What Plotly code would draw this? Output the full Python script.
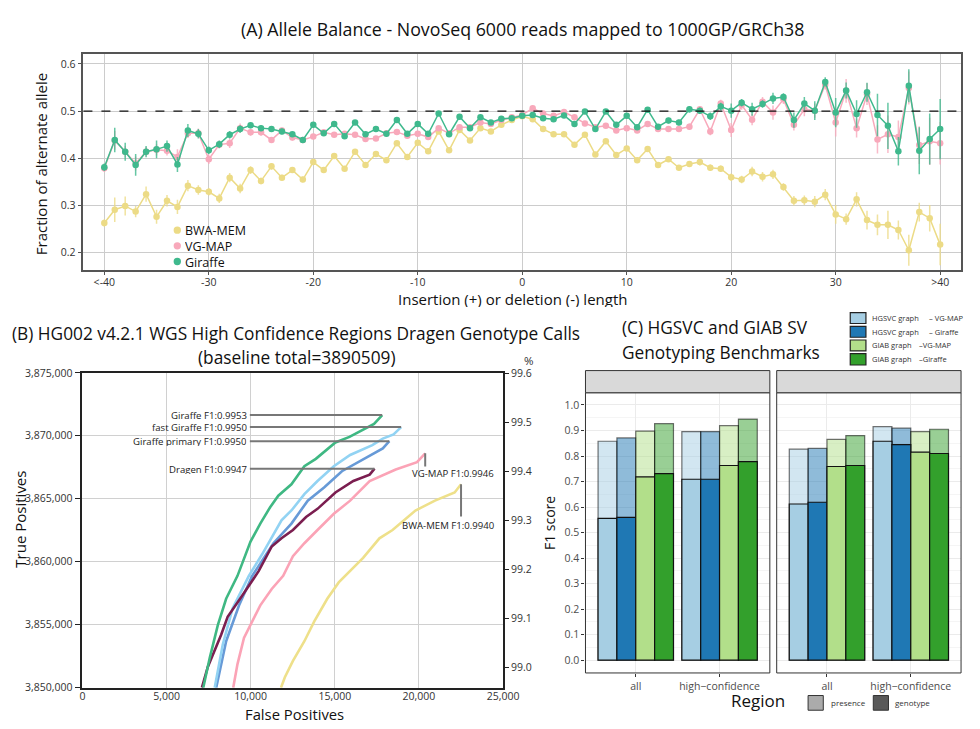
import plotly.graph_objects as go

W, H = 980, 729
def px(x): return min(max(x / W, 0), 1)
def py(y): return min(max(1 - y / H, 0), 1)

FONT = "Open Sans"

# ---------------- Panel A data ----------------
indel_len = list(range(-40, 41))
indel_tickvals = [-40, -30, -20, -10, 0, 10, 20, 30, 40]
indel_ticktext = ["<-40", "-30", "-20", "-10", "0", "10", "20", "30", ">40"]
ab_tickvals = [0.2, 0.3, 0.4, 0.5, 0.6]

bwa_ab = [0.263, 0.291, 0.299, 0.287, 0.324, 0.276, 0.310, 0.297, 0.342, 0.333,
          0.329, 0.315, 0.359, 0.336, 0.375, 0.352, 0.383, 0.359, 0.375, 0.355,
          0.392, 0.375, 0.405, 0.378, 0.414, 0.386, 0.409, 0.396, 0.432, 0.403,
          0.433, 0.415, 0.457, 0.417, 0.460, 0.438, 0.464, 0.457, 0.471, 0.481,
          0.489, 0.483, 0.462, 0.451, 0.451, 0.429, 0.450, 0.408, 0.436, 0.407,
          0.421, 0.396, 0.420, 0.386, 0.398, 0.380, 0.388, 0.392, 0.380, 0.378,
          0.360, 0.355, 0.372, 0.361, 0.366, 0.339, 0.310, 0.311, 0.308, 0.323,
          0.281, 0.271, 0.313, 0.269, 0.259, 0.259, 0.248, 0.205, 0.286, 0.273,
          0.217]
vgmap_ab = [0.379, 0.438, 0.414, 0.389, 0.414, 0.418, 0.416, 0.403, 0.453, 0.453,
            0.398, 0.429, 0.432, 0.464, 0.455, 0.455, 0.439, 0.459, 0.444, 0.439,
            0.446, 0.455, 0.450, 0.452, 0.450, 0.441, 0.442, 0.453, 0.456, 0.448,
            0.452, 0.445, 0.464, 0.453, 0.466, 0.466, 0.476, 0.473, 0.481, 0.487,
            0.492, 0.506, 0.495, 0.490, 0.498, 0.487, 0.474, 0.466, 0.469, 0.459,
            0.464, 0.459, 0.473, 0.462, 0.462, 0.462, 0.467, 0.504, 0.457, 0.516,
            0.460, 0.513, 0.482, 0.520, 0.497, 0.525, 0.471, 0.504, 0.501, 0.556,
            0.476, 0.543, 0.464, 0.536, 0.440, 0.451, 0.445, 0.549, 0.428, 0.436,
            0.432]
giraffe_ab = [0.381, 0.439, 0.414, 0.386, 0.414, 0.419, 0.426, 0.387, 0.459, 0.452,
              0.417, 0.430, 0.450, 0.462, 0.470, 0.464, 0.462, 0.457, 0.451, 0.439,
              0.471, 0.453, 0.473, 0.447, 0.476, 0.451, 0.462, 0.452, 0.481, 0.452,
              0.473, 0.452, 0.495, 0.451, 0.488, 0.464, 0.487, 0.476, 0.484, 0.485,
              0.490, 0.492, 0.485, 0.483, 0.491, 0.473, 0.499, 0.462, 0.499, 0.471,
              0.490, 0.466, 0.503, 0.467, 0.480, 0.476, 0.504, 0.501, 0.489, 0.510,
              0.501, 0.518, 0.504, 0.515, 0.527, 0.530, 0.481, 0.516, 0.501, 0.562,
              0.497, 0.544, 0.494, 0.540, 0.492, 0.469, 0.415, 0.554, 0.416, 0.441,
              0.462]

bwa_err = [0.008, 0.026, 0.020, 0.012, 0.016, 0.015, 0.012, 0.015, 0.012, 0.010,
           0.008, 0.010, 0.010, 0.010, 0.008, 0.007, 0.007, 0.006, 0.006, 0.006,
           0.006, 0.005, 0.005, 0.005, 0.005, 0.005, 0.005, 0.004, 0.004, 0.004,
           0.004, 0.004, 0.004, 0.004, 0.004, 0.004, 0.003, 0.003, 0.003, 0.003,
           0.003, 0.003, 0.003, 0.003, 0.003, 0.004, 0.004, 0.004, 0.004, 0.004,
           0.005, 0.005, 0.005, 0.005, 0.006, 0.006, 0.006, 0.007, 0.007, 0.007,
           0.008, 0.008, 0.010, 0.010, 0.010, 0.008, 0.010, 0.010, 0.012, 0.012,
           0.020, 0.012, 0.015, 0.020, 0.022, 0.030, 0.020, 0.033, 0.020, 0.028,
           0.044, 0.030]
vgmap_err = [0.008, 0.020, 0.012, 0.015, 0.010, 0.012, 0.010, 0.016, 0.010, 0.010,
             0.010, 0.008, 0.010, 0.010, 0.007, 0.007, 0.006, 0.006, 0.006, 0.006,
             0.005, 0.005, 0.005, 0.005, 0.005, 0.005, 0.005, 0.004, 0.004, 0.004,
             0.004, 0.004, 0.004, 0.004, 0.004, 0.004, 0.003, 0.003, 0.003, 0.003,
             0.003, 0.003, 0.003, 0.003, 0.003, 0.004, 0.004, 0.004, 0.004, 0.005,
             0.005, 0.005, 0.005, 0.006, 0.006, 0.006, 0.007, 0.007, 0.008, 0.008,
             0.015, 0.010, 0.012, 0.010, 0.015, 0.010, 0.012, 0.015, 0.015, 0.010,
             0.030, 0.025, 0.020, 0.023, 0.030, 0.040, 0.035, 0.035, 0.040, 0.050,
             0.045, 0.035]
giraffe_err = [0.008, 0.026, 0.019, 0.023, 0.012, 0.019, 0.012, 0.016, 0.014, 0.010,
               0.008, 0.008, 0.008, 0.008, 0.006, 0.006, 0.006, 0.006, 0.005, 0.005,
               0.005, 0.005, 0.005, 0.005, 0.005, 0.005, 0.004, 0.004, 0.004, 0.004,
               0.004, 0.004, 0.004, 0.004, 0.004, 0.004, 0.003, 0.003, 0.003, 0.003,
               0.003, 0.003, 0.003, 0.003, 0.003, 0.004, 0.004, 0.004, 0.004, 0.005,
               0.005, 0.005, 0.005, 0.006, 0.006, 0.006, 0.007, 0.007, 0.008, 0.008,
               0.015, 0.008, 0.014, 0.008, 0.012, 0.008, 0.016, 0.014, 0.020, 0.010,
               0.031, 0.017, 0.029, 0.020, 0.045, 0.049, 0.030, 0.035, 0.050, 0.054,
               0.064, 0.044]

# ---------------- Panel B data ----------------
baseline_total = 3890509
giraffe_fp = [7180, 7570, 8050, 8540, 9215, 9990, 10570, 11155, 11640, 12420, 13190, 13870, 15035, 15870, 17330, 17815]
giraffe_tp = [3850000, 3852390, 3854980, 3857060, 3858880, 3861600, 3863030, 3864330, 3865240, 3866150, 3867580, 3868170, 3869470, 3869910, 3870950, 3871650]
fast_fp = [7860, 8340, 8920, 9890, 10670, 11830, 12420, 13190, 13970, 14940, 15910, 17230, 17850, 18490, 18940]
fast_tp = [3850000, 3853430, 3856280, 3858880, 3860570, 3863290, 3864070, 3865370, 3866410, 3867580, 3868480, 3869260, 3869780, 3870110, 3870690]
primary_fp = [7950, 8540, 9310, 10090, 11350, 12420, 13390, 14360, 15420, 16490, 17850, 18240]
primary_tp = [3850000, 3853690, 3856540, 3858880, 3861470, 3863030, 3864850, 3865890, 3867190, 3867970, 3869000, 3869570]
dragen_fp = [7100, 7450, 8245, 8630, 9500, 10480, 11250, 11830, 12510, 13290, 13970, 15035, 16100, 17070, 17360]
dragen_tp = [3850000, 3851640, 3854200, 3855630, 3857320, 3859270, 3861210, 3861860, 3862520, 3863550, 3864200, 3865500, 3866410, 3866920, 3867390]
vgmapB_fp = [8960, 9215, 9600, 10090, 10570, 11250, 11930, 12510, 13190, 13970, 14940, 15910, 17070, 18620, 19885, 20370]
vgmapB_tp = [3850000, 3851870, 3853950, 3855240, 3856540, 3857840, 3858880, 3860440, 3861470, 3862520, 3863810, 3864850, 3866410, 3867320, 3867910, 3868610]
bwaB_fp = [11800, 12030, 12510, 13190, 13770, 14550, 15230, 15910, 16680, 17650, 18430, 19790, 20950, 22120, 22500]
bwaB_tp = [3850000, 3850830, 3852130, 3853690, 3855240, 3857060, 3858360, 3859270, 3860310, 3861860, 3862520, 3864070, 3864850, 3865500, 3866150]
curve_labels = ["Giraffe F1:0.9953", "fast Giraffe F1:0.9950", "Giraffe primary F1:0.9950",
                "Dragen F1:0.9947", "VG-MAP F1:0.9946", "BWA-MEM F1:0.9940"]
pct_ticks = [99.0, 99.1, 99.2, 99.3, 99.4, 99.5, 99.6]

# ---------------- Panel C data ----------------
regions = ["all", "high\u2212confidence"]
methods = ["HGSVC graph \u2013 VG-MAP", "HGSVC graph \u2013 Giraffe",
           "GIAB graph \u2013 VG-MAP", "GIAB graph \u2013 Giraffe"]
f1_ticks = [0.0, 0.1, 0.2, 0.3, 0.4, 0.5, 0.6, 0.7, 0.8, 0.9, 1.0]
facet1_presence = [[0.858, 0.896], [0.871, 0.896], [0.898, 0.919], [0.927, 0.945]]
facet1_genotype = [[0.556, 0.709], [0.560, 0.709], [0.718, 0.763], [0.731, 0.778]]
facet2_presence = [[0.827, 0.915], [0.830, 0.909], [0.865, 0.896], [0.880, 0.905]]
facet2_genotype = [[0.612, 0.858], [0.619, 0.845], [0.759, 0.815], [0.763, 0.810]]

# ---------------- styles ----------------
YEL, PINK, GRN = "#ecdb86", "#f8a9bb", "#3fb98d"
YEL_E, PINK_E, GRN_E = "rgba(236,219,134,0.8)", "rgba(248,169,187,0.8)", "rgba(63,185,141,0.8)"
B_COLORS = {"giraffe": "#3fb883", "fast": "#92d3f3", "primary": "#679ad7",
            "dragen": "#7b1e50", "vgmap": "#fba3b6", "bwa": "#eee08a"}
C_COLORS = ["#a6cee3", "#1f78b4", "#b2df8a", "#33a02c"]
C_ALPHA = ["rgba(166,206,227,0.5)", "rgba(31,120,180,0.5)", "rgba(178,223,138,0.5)", "rgba(51,160,44,0.5)"]

fig = go.Figure()

# Panel A traces
for yv, ev, col, ecol in [(bwa_ab, bwa_err, YEL, YEL_E), (vgmap_ab, vgmap_err, PINK, PINK_E),
                          (giraffe_ab, giraffe_err, GRN, GRN_E)]:
    fig.add_trace(go.Scatter(x=indel_len, y=yv, mode="lines+markers",
                             line=dict(color=col, width=1.5),
                             marker=dict(color=col, size=6.5),
                             error_y=dict(type="data", array=ev, color=ecol, thickness=1.5, width=0),
                             xaxis="x", yaxis="y", showlegend=False, hoverinfo="skip"))

# Panel B traces
for fp, tp, key in [(bwaB_fp, bwaB_tp, "bwa"), (vgmapB_fp, vgmapB_tp, "vgmap"),
                    (primary_fp, primary_tp, "primary"), (fast_fp, fast_tp, "fast"),
                    (dragen_fp, dragen_tp, "dragen"), (giraffe_fp, giraffe_tp, "giraffe")]:
    fig.add_trace(go.Scatter(x=fp, y=tp, mode="lines", line=dict(color=B_COLORS[key], width=2.6),
                             xaxis="x2", yaxis="y2", showlegend=False, hoverinfo="skip"))
# invisible trace on percent axis
fig.add_trace(go.Scatter(x=giraffe_fp, y=[t / baseline_total * 100 for t in giraffe_tp], mode="lines",
                         line=dict(width=0), opacity=0, xaxis="x2", yaxis="y3",
                         showlegend=False, hoverinfo="skip"))

# Panel C traces
for pres, geno, xa, ya, ag in [(facet1_presence, facet1_genotype, "x3", "y4", "f1"),
                               (facet2_presence, facet2_genotype, "x4", "y5", "f2")]:
    for i in range(4):
        fig.add_trace(go.Bar(x=regions, y=pres[i], name=methods[i], offsetgroup=str(i), alignmentgroup=ag,
                             marker=dict(color=C_ALPHA[i], line=dict(color="rgba(0,0,0,0.55)", width=1.2)),
                             xaxis=xa, yaxis=ya, showlegend=False, hoverinfo="skip"))
    for i in range(4):
        fig.add_trace(go.Bar(x=regions, y=geno[i], name=methods[i], offsetgroup=str(i), alignmentgroup=ag,
                             marker=dict(color=C_COLORS[i], line=dict(color="#111111", width=1.2)),
                             xaxis=xa, yaxis=ya, showlegend=False, hoverinfo="skip"))

tickfont = dict(family=FONT, size=10.5, color="#333333")
Bdom_y = [py(694), py(373)]
Cdom_y = [py(679), py(393.3)]

lo_pct = 3850000 / baseline_total * 100
hi_pct = 3875000 / baseline_total * 100

fig.update_layout(
    width=W, height=H, margin=dict(l=0, r=0, t=0, b=0),
    paper_bgcolor="white", plot_bgcolor="white",
    barmode="group", bargap=0.1, bargroupgap=0,
    font=dict(family=FONT, color="#111111"),
    xaxis=dict(domain=[px(82), px(977)], range=[-42, 42], anchor="y",
               tickvals=indel_tickvals, ticktext=indel_ticktext, tickfont=tickfont,
               showgrid=True, gridcolor="#cccccc", gridwidth=1.3, zeroline=False,
               showline=True, linecolor="#555555", linewidth=1.5, mirror=True,
               ticks="outside", ticklen=3, tickcolor="#555555", ticklabelstandoff=-1),
    yaxis=dict(domain=[py(268), py(48)], range=[0.1635, 0.621], anchor="x",
               tickvals=ab_tickvals, tickformat=".1f", tickfont=tickfont,
               showgrid=True, gridcolor="#cccccc", gridwidth=1.3, zeroline=False,
               showline=True, linecolor="#555555", linewidth=1.5, mirror=True,
               ticks="outside", ticklen=4, tickcolor="#555555"),
    xaxis2=dict(domain=[px(81), px(510)], range=[0, 25000], anchor="y2",
                dtick=5000, tickformat=",d", tickfont=tickfont,
                showgrid=True, gridcolor="#d0d0d0", gridwidth=1, zeroline=False,
                showline=True, linecolor="#222222", linewidth=1.5, mirror=True, ticks="",
                ticklabelstandoff=-2),
    yaxis2=dict(domain=Bdom_y, range=[3850000, 3875000], anchor="x2",
                dtick=5000, tickformat=",d", tickfont=tickfont,
                showgrid=True, gridcolor="#d0d0d0", gridwidth=1, zeroline=False,
                showline=True, linecolor="#222222", linewidth=1.5,
                ticks="outside", ticklen=6, tickcolor="#222222"),
    yaxis3=dict(domain=Bdom_y, range=[lo_pct, hi_pct], anchor="x2", overlaying="y2", side="right",
                tickvals=pct_ticks, tickformat=".1f", tickfont=tickfont, showgrid=False, zeroline=False,
                showline=True, linecolor="#222222", linewidth=1.5,
                ticks="outside", ticklen=4, tickcolor="#222222"),
    xaxis3=dict(domain=[px(594), px(782)], anchor="y4", type="category", categoryarray=regions,
                range=[-0.6, 1.6], tickfont=dict(family=FONT, size=10.5, color="#4d4d4d"),
                showgrid=True, gridcolor="#ebebeb", zeroline=False, showline=False,
                ticks="outside", ticklen=3, tickcolor="#333333"),
    xaxis4=dict(domain=[px(789), px(977)], anchor="y5", type="category", categoryarray=regions,
                range=[-0.6, 1.6], tickfont=dict(family=FONT, size=10.5, color="#4d4d4d"),
                showgrid=True, gridcolor="#ebebeb", zeroline=False, showline=False,
                ticks="outside", ticklen=3, tickcolor="#333333"),
    yaxis4=dict(domain=Cdom_y, range=[-0.05, 1.048], anchor="x3", tickvals=f1_ticks, tickformat=".1f",
                tickfont=dict(family=FONT, size=10.5, color="#4d4d4d"),
                showgrid=True, gridcolor="#ebebeb", zeroline=False, showline=False,
                minor=dict(showgrid=True, gridcolor="#f5f5f5", dtick=0.05, tick0=0.05),
                ticks="outside", ticklen=3, tickcolor="#333333"),
    yaxis5=dict(domain=Cdom_y, range=[-0.05, 1.048], anchor="x4", tickvals=f1_ticks,
                showticklabels=False, showgrid=True, gridcolor="#ebebeb", zeroline=False,
                minor=dict(showgrid=True, gridcolor="#f5f5f5", dtick=0.05, tick0=0.05),
                showline=False, ticks=""),
)

shapes = []
# Panel A dashed 0.5 line
shapes.append(dict(type="line", xref="x domain", yref="y", x0=0, x1=1, y0=0.5, y1=0.5,
                   line=dict(color="#111111", width=1.2, dash="dash")))
# Panel A legend markers (dots)
for col, yy in [(YEL, 227.5), (PINK, 243.5), (GRN, 259.5)]:
    shapes.append(dict(type="circle", xref="paper", yref="paper", x0=px(174), x1=px(181.5),
                       y0=py(yy + 3.75), y1=py(yy - 3.75), fillcolor=col, line=dict(color=col, width=0)))
# Panel B leader lines
for fp, tp in [(giraffe_fp, giraffe_tp), (fast_fp, fast_tp), (primary_fp, primary_tp), (dragen_fp, dragen_tp)]:
    shapes.append(dict(type="line", xref="x2", yref="y2", x0=9950, x1=fp[-1], y0=tp[-1], y1=tp[-1],
                       line=dict(color="#777777", width=2)))
shapes.append(dict(type="line", xref="x2", yref="y2", x0=vgmapB_fp[-1], x1=vgmapB_fp[-1],
                   y0=vgmapB_tp[-1], y1=vgmapB_tp[-1] - 1050, line=dict(color="#777777", width=2)))
shapes.append(dict(type="line", xref="x2", yref="y2", x0=bwaB_fp[-1], x1=bwaB_fp[-1],
                   y0=bwaB_tp[-1], y1=bwaB_tp[-1] - 2550, line=dict(color="#777777", width=2)))
# Panel C frames and strips
for x0, x1 in [(594, 782), (789, 977)]:
    shapes.append(dict(type="rect", xref="paper", yref="paper", x0=px(x0), x1=px(x1), y0=py(679), y1=py(393.3),
                       line=dict(color="#333333", width=1)))
    shapes.append(dict(type="rect", xref="paper", yref="paper", x0=px(x0), x1=px(x1), y0=py(393.3), y1=py(370.7),
                       fillcolor="#d9d9d9", line=dict(color="#333333", width=1)))
# Panel C top legend boxes
for i, (ytop, ybot) in enumerate([(311.7, 322.7), (325.7, 336.7), (339.5, 350.7), (353.5, 365)]):
    shapes.append(dict(type="rect", xref="paper", yref="paper", x0=px(864), x1=px(880), y0=py(ybot), y1=py(ytop),
                       fillcolor=C_COLORS[i], line=dict(color="#222222", width=1.2)))
# bottom legend boxes
shapes.append(dict(type="rect", xref="paper", yref="paper", x0=px(821), x1=px(836.5), y0=py(717), y1=py(702),
                   fillcolor="#ababab", line=dict(color="#333333", width=1)))
shapes.append(dict(type="rect", xref="paper", yref="paper", x0=px(887.5), x1=px(903), y0=py(717), y1=py(702),
                   fillcolor="#595959", line=dict(color="#333333", width=1)))


def ann(text, x, y, size, color="#111111", xanchor="center", yanchor="middle", angle=0, height=None):
    d = dict(text=text, x=px(x), y=py(y), xref="paper", yref="paper", showarrow=False,
             font=dict(family=FONT, size=size, color=color), xanchor=xanchor, yanchor=yanchor,
             textangle=angle, borderpad=0)
    if height is not None:
        d["height"] = height
    return d


anns = [
    ann("(A) Allele Balance - NovoSeq 6000 reads mapped to 1000GP/GRCh38", 530, 22, 17.8),
    ann("Insertion (+) or deletion (-) length", 520, 298, 15, height=16),
    ann("Fraction of alternate allele", 39, 160, 15, angle=-90),
    ann("(B) HG002 v4.2.1 WGS High Confidence Regions Dragen Genotype Calls", 299, 333, 17.3),
    ann("(baseline total=3890509)", 300, 357, 17.3),
    ann("False Positives", 297, 720, 14.8, height=15),
    ann("True Positives", 17, 522, 15, angle=-90),
    ann("%", 536, 360, 11.5, color="#333333"),
    ann("(C) HGSVC and GIAB SV", 630, 327, 17.3, xanchor="left"),
    ann("Genotyping Benchmarks", 630, 352, 17.3, xanchor="left"),
    ann("F1 score", 558, 526, 14, angle=-90),
    ann("Region", 770, 707, 17),
    ann("presence", 843, 709.5, 8, color="#333333", xanchor="left"),
    ann("genotype", 909, 709.5, 8, color="#333333", xanchor="left"),
]
# Panel A legend labels
for (lab, yy) in [("BWA-MEM", 227.5), ("VG-MAP", 243.5), ("Giraffe", 259.5)]:
    anns.append(ann(lab, 185, yy, 12.5, xanchor="left", height=14))
# Panel C legend text
legend_left = ["HGSVC graph", "HGSVC graph", "GIAB graph", "GIAB graph"]
legend_right = ["\u2013 VG-MAP", "\u2013 Giraffe", "\u2013VG-MAP", "\u2013Giraffe"]
legend_rx = [943, 943, 933, 933]
for i, yy in enumerate([317, 331, 345, 359]):
    anns.append(ann(legend_left[i], 885.5, yy, 7.5, color="#333333", xanchor="left"))
    anns.append(ann(legend_right[i], legend_rx[i], yy, 7.5, color="#333333", xanchor="left"))
# Panel B curve labels
for lab, tp in zip(curve_labels[:4], [giraffe_tp, fast_tp, primary_tp, dragen_tp]):
    anns.append(dict(text=lab, x=9850, y=tp[-1], xref="x2", yref="y2", showarrow=False, height=10,
                     borderpad=0, font=dict(family=FONT, size=9.6, color="#222222"),
                     xanchor="right", yanchor="middle"))
anns.append(dict(text=curve_labels[4], x=24530, y=vgmapB_tp[-1] - 1630, xref="x2", yref="y2", showarrow=False,
                 borderpad=0, font=dict(family=FONT, size=9.6, color="#222222"), xanchor="right", yanchor="middle"))
anns.append(dict(text=curve_labels[5], x=24530, y=bwaB_tp[-1] - 3300, xref="x2", yref="y2", showarrow=False,
                 borderpad=0, font=dict(family=FONT, size=9.6, color="#222222"), xanchor="right", yanchor="middle"))

fig.update_layout(shapes=shapes, annotations=anns)
fig.write_html("out.html")
